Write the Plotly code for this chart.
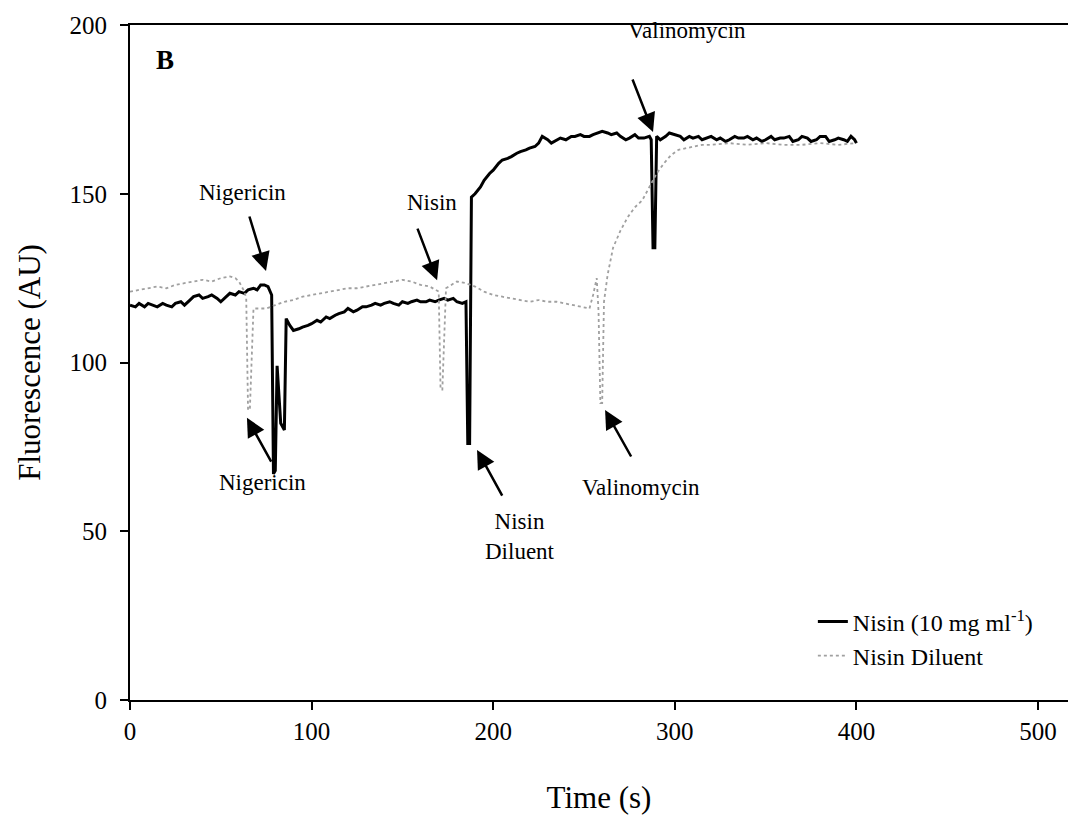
import plotly.graph_objects as go

# ---- data ----
time_nisin = [0, 3, 5, 8, 10, 13, 15, 18, 20, 23, 25, 28, 30, 33, 35, 38, 40, 43, 45, 48,
              50, 53, 55, 58, 60, 63, 65, 68, 70, 72, 74, 76, 78, 79, 80, 81, 83, 85, 86, 88,
              90, 93, 95, 98, 100, 103, 105, 108, 110, 113, 115, 118, 120, 123, 125, 128, 130,
              133, 135, 138, 140, 143, 145, 148, 150, 153, 155, 158, 160, 163, 165, 168, 170,
              173, 175, 178, 180, 183, 185, 186, 187, 188, 190, 193, 195, 198, 200, 203, 205,
              208, 210, 213, 215, 218, 220, 223, 225, 227, 230, 232, 235, 237, 240, 243, 245,
              248, 250, 253, 255, 258, 260, 263, 265, 268, 270, 273, 275, 278, 280, 283, 286,
              287, 288, 289, 290, 292, 295, 297, 300, 303, 305, 308, 310, 313, 315, 318, 320,
              323, 325, 328, 330, 333, 335, 338, 340, 343, 345, 348, 350, 353, 355, 358, 360,
              363, 365, 368, 370, 373, 375, 378, 380, 383, 385, 388, 390, 393, 395, 397, 399, 400]
fl_nisin = [117, 116.5, 117.5, 116.5, 117.5, 117, 116.5, 117.5, 117, 116.5, 117.5, 118, 117, 118.5,
            119.5, 120, 119, 119.5, 120, 119, 118, 119.5, 120.5, 120, 121, 120.5, 121.5, 122,
            121.5, 123, 123, 122.5, 120, 67, 68, 99, 82, 80, 113, 111, 109.5, 110, 110.5, 111,
            111.5, 112.5, 112, 113.5, 113, 114, 114.5, 115, 116, 115, 115.5, 116.5, 116.5, 117,
            117.5, 117, 117.5, 118, 117.5, 117, 118, 117.5, 118, 118.5, 118, 118, 118.5, 118,
            118.5, 119, 118.5, 119, 118, 117.5, 118, 76, 76, 149, 150, 152, 154, 156, 157, 159,
            160, 160.5, 161, 162, 162.5, 163, 163.5, 164, 165, 167, 166, 165, 166, 166.5, 166,
            167, 167, 167.5, 167, 167, 167.5, 168, 168.5, 168, 167.5, 168, 167, 166, 166.5,
            167.5, 166.5, 166.5, 167, 166, 134, 134, 167, 166, 167, 168, 167.5, 167, 166, 167,
            166.5, 167, 166, 166.5, 167, 166, 166.5, 165.5, 166, 167, 166.5, 166.5, 167, 166,
            166.5, 165.5, 166, 167, 166, 166.5, 166.5, 167, 165.5, 166, 167, 166.5, 165.5, 166,
            167, 167, 165.5, 166, 166.5, 166, 165.5, 167, 166, 165]

time_diluent = [0, 5, 10, 15, 20, 25, 30, 35, 40, 45, 50, 55, 58, 60, 63, 64, 65, 66, 68, 70,
                75, 80, 85, 90, 95, 100, 105, 110, 115, 120, 125, 130, 135, 140, 145, 150, 155,
                160, 165, 168, 170, 171, 172, 174, 177, 180, 185, 190, 195, 200, 205, 210, 215,
                220, 225, 230, 235, 240, 245, 250, 253, 255, 257, 258, 259, 260, 261, 263, 266,
                270, 274, 278, 282, 286, 290, 294, 298, 302, 306, 310, 315, 320, 330, 340, 350,
                360, 370, 380, 390, 400]
fl_diluent = [121, 121.5, 122, 122.5, 122, 123, 123.5, 124, 124.5, 124, 125, 125.5, 125, 124,
              121, 119, 86, 86, 116, 116, 116, 117, 118, 118.5, 119.5, 120, 120.5, 121, 121.5,
              122, 122, 122.5, 123, 123.5, 124, 124.5, 124, 123, 122.5, 121.5, 121, 92, 92,
              122, 123, 124, 123.5, 122.5, 121, 120, 119.5, 119, 118.5, 118, 118.5, 118, 118,
              117.5, 117, 116.5, 116, 120, 125, 115, 88, 88, 118, 126, 134, 139, 143, 146, 148,
              152, 156, 159, 161.5, 163, 163.5, 164, 164.5, 164.5, 165, 164.5, 165, 164.5,
              164.5, 165, 164.5, 165]

x_ticks = [0, 100, 200, 300, 400, 500]
y_ticks = [0, 50, 100, 150, 200]

FONT = "Liberation Serif, Times New Roman, serif"

fig = go.Figure()
fig.add_trace(go.Scatter(x=time_nisin, y=fl_nisin, mode="lines",
                         name="Nisin (10 mg ml<sup>-1</sup>)",
                         line=dict(color="black", width=3)))
fig.add_trace(go.Scatter(x=time_diluent, y=fl_diluent, mode="lines",
                         name="Nisin Diluent",
                         line=dict(color="#a0a0a0", width=1.8, dash="dot")))

annotations = []
# text labels
labels = [
    ("Nigericin", 61.7, 150.5),
    ("Nisin", 166.3, 147.3),
    ("Valinomycin", 306.7, 198.5),
    ("Nigericin", 72.7, 64.3),
    ("Nisin<br>Diluent", 214.8, 48.3),
    ("Valinomycin", 281.4, 63.1),
]
for t, x, y in labels:
    annotations.append(dict(text=t, x=x, y=y, xref="x", yref="y", showarrow=False,
                            font=dict(family=FONT, size=23, color="black")))
# arrows: (head_x, head_y, tail_x, tail_y)
arrows = [
    (74.9, 127.1, 65.5, 143.7),
    (169.1, 124.4, 158.0, 140.1),
    (288.0, 168.3, 276.4, 184.3),
    (64.4, 83.6, 78.2, 70.2),
    (191.1, 74.1, 205.4, 60.1),
    (261.6, 85.9, 276.4, 71.7),
]
for hx, hy, tx, ty in arrows:
    annotations.append(dict(text="", x=hx, y=hy, ax=tx, ay=ty, xref="x", yref="y",
                            axref="x", ayref="y", showarrow=True, arrowhead=2,
                            arrowsize=1.5, arrowwidth=2.5, arrowcolor="black",
                            standoff=0, startstandoff=0))
annotations.append(dict(text="<b>B</b>", x=19.3, y=189.6, xref="x", yref="y",
                        showarrow=False, font=dict(family=FONT, size=27, color="black")))

fig.update_layout(
    width=1068, height=817,
    margin=dict(l=130, r=0, t=25, b=117),
    paper_bgcolor="white", plot_bgcolor="white",
    font=dict(family=FONT, size=24, color="black"),
    showlegend=True,
    legend=dict(x=0.728, y=0.149, xanchor="left", yanchor="top",
                bgcolor="rgba(0,0,0,0)", font=dict(family=FONT, size=24),
                tracegroupgap=0),
    annotations=annotations,
)
fig.update_xaxes(range=[0, 516.5], tickvals=x_ticks, ticks="outside", ticklen=8,
                 tickwidth=1.5, tickcolor="black", showline=True, linecolor="black",
                 linewidth=2, mirror=True, showgrid=False, zeroline=False,
                 tickfont=dict(family=FONT, size=25),
                 title=dict(text="Time (s)", font=dict(family=FONT, size=31), standoff=42))
fig.update_yaxes(range=[0, 200], tickvals=y_ticks, ticks="outside", ticklen=8,
                 tickwidth=1.5, tickcolor="black", showline=True, linecolor="black",
                 linewidth=2, showgrid=False, zeroline=False, ticklabelstandoff=8,
                 tickfont=dict(family=FONT, size=25),
                 title=dict(text="Fluorescence (AU)", font=dict(family=FONT, size=31), standoff=20))

fig.write_html("out.html")
